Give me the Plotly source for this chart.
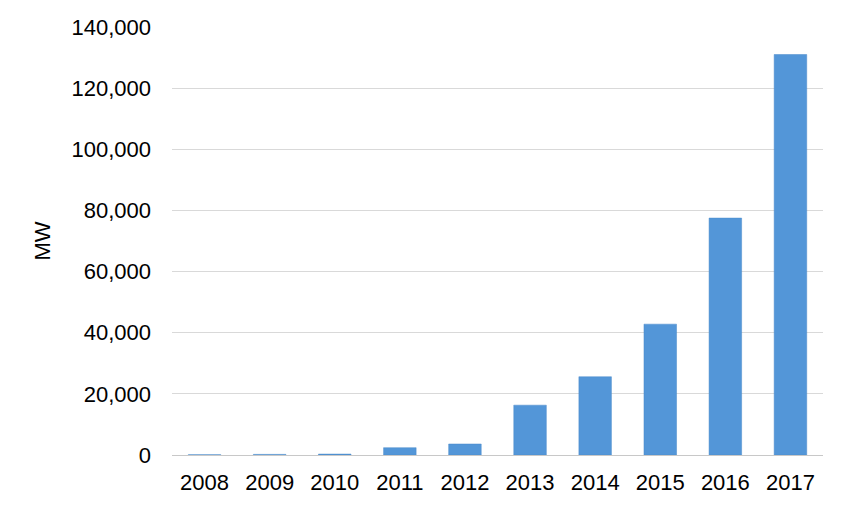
import plotly.graph_objects as go

years = ["2008", "2009", "2010", "2011", "2012", "2013", "2014", "2015", "2016", "2017"]
mw = [100, 200, 300, 2400, 3600, 16300, 25600, 42800, 77500, 131000]
y_ticks = [0, 20000, 40000, 60000, 80000, 100000, 120000, 140000]

fig = go.Figure(go.Bar(
    x=years, y=mw,
    marker=dict(color="#5396D8", line=dict(color="#4A8ACB", width=0.5)),
))

fig.update_layout(
    width=850, height=510,
    margin=dict(l=164, r=35, t=19, b=63),
    paper_bgcolor="white", plot_bgcolor="white",
    bargap=0.5,
    font=dict(family="Liberation Sans, Arial, sans-serif", size=22, color="#000000"),
    showlegend=False,
)
fig.update_xaxes(type="category", showgrid=False, showline=False, ticks="",
                 tickfont=dict(size=22), ticklabelstandoff=12, automargin=False)
fig.update_yaxes(range=[0, 140000], tickvals=y_ticks, tickformat=",",
                 showgrid=True, gridcolor="#D9D9D9", gridwidth=1,
                 zeroline=True, zerolinecolor="#C8C8C8", zerolinewidth=1,
                 showline=False, ticks="", tickfont=dict(size=22),
                 ticklabelstandoff=20, automargin=False,
                 title=dict(text="MW", font=dict(size=22), standoff=14))

fig.write_html("out.html")
